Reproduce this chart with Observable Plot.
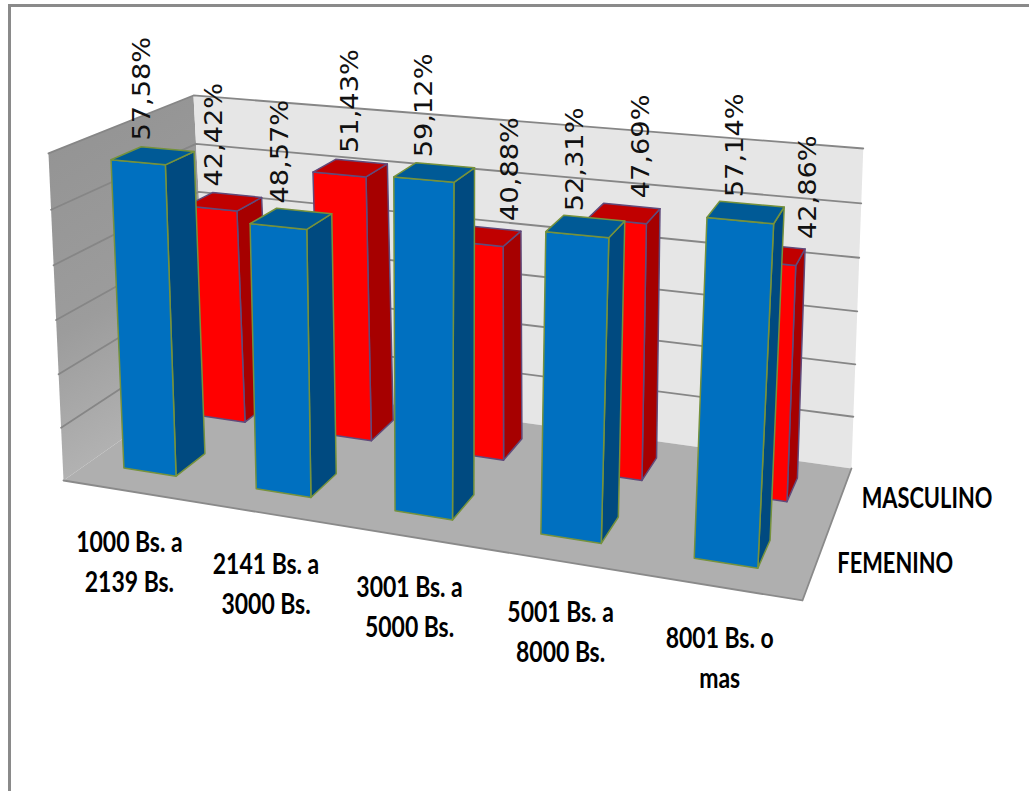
<!DOCTYPE html>
<html lang="es">
<head>
<meta charset="utf-8">
<script src="https://cdn.jsdelivr.net/npm/d3@7"></script>
<script src="https://cdn.jsdelivr.net/npm/@observablehq/plot@0.6"></script>
<style>
  html, body { margin: 0; padding: 0; width: 1029px; height: 791px; overflow: hidden; background: #fff; }
  #marco { position: absolute; left: 8px; top: 4px; right: 0; bottom: 0; border-top: 3px solid #8a8a8a; border-left: 3px solid #8a8a8a; }
  #grafico { position: absolute; left: 0; top: 0; }
  #grafico svg { background: transparent; }
</style>
</head>
<body>
<div id="marco"></div>
<div id="grafico"></div>
<script>
// Ingreso mensual por sexo (porcentajes)
const categorias = ["1000 Bs. a\n2139 Bs.", "2141 Bs. a\n3000 Bs.", "3001 Bs. a\n5000 Bs.", "5001 Bs. a\n8000 Bs.", "8001 Bs. o\nmas"];
const femenino = [57.58, 48.57, 59.12, 52.31, 57.14];
const masculino = [42.42, 51.43, 40.88, 47.69, 42.86];
const etiquetasFemenino = ["57,58%", "48,57%", "59,12%", "52,31%", "57,14%"];
const etiquetasMasculino = ["42,42%", "51,43%", "40,88%", "47,69%", "42,86%"];
const lineasValor = [10, 20, 30, 40, 50, 60];
const valorMaximo = 60;

// Camara: lleva (u a lo ancho, v en profundidad, valor en altura) al plano del dibujo
function proyectar(u, v, valor) {
  const z = valor / valorMaximo;
  const w = 1 - 0.1193 * u + 0.1584 * v - 0.037 * z;
  const kx = -16.8 + 4.9 * u - 7.7 * v;
  const ky = -332.7 - 6.6 * u + 1.3 * v;
  return {
    x: (643.3 * u + 177.9 * v + kx * z + 63) / w,
    y: (48.4 * u - 42.1 * v + ky * z + 480) / w
  };
}

// Geometria de las barras dentro de cada celda del suelo
const n = categorias.length;
const mediaAncho = 0.04;
const mediaFondo = 0.1;
const centroBarra = i => (i + 0.5) / n - 0.006;
const filas = { femenino: 0.257, masculino: 0.757 };
// Las etiquetas de la fila trasera van corridas a mano para que no se pisen
const corrimientoMasculino = [1, 10, 36, 27, 49];

const caras = [];
function cara(puntos, fill, stroke) {
  const id = caras.length ? caras[caras.length - 1].id + 1 : 0;
  for (const [u, v, valor] of puntos) caras.push({ ...proyectar(u, v, valor), id, fill, stroke });
}

// Paredes y suelo
cara([[0, 0, 0], [0, 1, 0], [0, 1, valorMaximo], [0, 0, valorMaximo]], "url(#paredIzquierda)", "none");
cara([[0, 1, 0], [1, 1, 0], [1, 1, valorMaximo], [0, 1, valorMaximo]], "#e6e6e6", "none");
cara([[0, 0, 0], [1, 0, 0], [1, 1, 0], [0, 1, 0]], "#afafaf", "none");

function barra(i, fila, valor, c) {
  const u0 = centroBarra(i) - mediaAncho, u1 = centroBarra(i) + mediaAncho;
  const v0 = fila - mediaFondo, v1 = fila + mediaFondo;
  cara([[u1, v0, 0], [u1, v1, 0], [u1, v1, valor], [u1, v0, valor]], c.lado, c.borde);
  cara([[u0, v0, 0], [u1, v0, 0], [u1, v0, valor], [u0, v0, valor]], c.frente, c.borde);
  cara([[u0, v0, valor], [u1, v0, valor], [u1, v1, valor], [u0, v1, valor]], c.tapa, c.borde);
}
const rojo = { frente: "#ff0000", lado: "#a60000", tapa: "#c00000", borde: "#604a7b" };
const azul = { frente: "#0070c0", lado: "#004a80", tapa: "#005a96", borde: "#76923c" };
masculino.forEach((valor, i) => barra(i, filas.masculino, valor, rojo));
femenino.forEach((valor, i) => barra(i, filas.femenino, valor, azul));

// Lineas de division sobre las dos paredes
const rejilla = lineasValor.flatMap(t =>
  [[0, 0], [0, 1], [1, 1]].map(([u, v]) => ({ ...proyectar(u, v, t), t }))
);
// Borde delantero del suelo
const bordeSuelo = [proyectar(0, 0, 0), proyectar(1, 0, 0), proyectar(1, 1, 0)];

const rotulosValor = [
  ...masculino.map((valor, i) => {
    const p = proyectar(centroBarra(i), filas.masculino, valor);
    return { x: p.x + corrimientoMasculino[i], y: p.y, texto: etiquetasMasculino[i] };
  }),
  ...femenino.map((valor, i) => ({ ...proyectar(centroBarra(i), filas.femenino, valor), texto: etiquetasFemenino[i] }))
];
const rotulosCategoria = categorias.map((texto, i) => ({ ...proyectar((i + 0.5) / n, 0, 0), texto }));
const rotulosSerie = [
  { ...proyectar(1, 0.75, 0), texto: "MASCULINO" },
  { ...proyectar(1, 0.25, 0), texto: "FEMENINO" }
];

const ns = "http://www.w3.org/2000/svg";
function degradado() {
  const defs = document.createElementNS(ns, "defs");
  const g = document.createElementNS(ns, "linearGradient");
  g.setAttribute("id", "paredIzquierda");
  g.setAttribute("x1", "0"); g.setAttribute("y1", "0");
  g.setAttribute("x2", "0.25"); g.setAttribute("y2", "1");
  [["0", "#929292"], ["0.6", "#9c9c9c"], ["1", "#b4b4b4"]].forEach(([o, c]) => {
    const s = document.createElementNS(ns, "stop");
    s.setAttribute("offset", o); s.setAttribute("stop-color", c);
    g.appendChild(s);
  });
  defs.appendChild(g);
  return defs;
}

const soloParedes = caras.filter(d => d.id < 3);
const soloBarras = caras.filter(d => d.id >= 3);

const grafico = Plot.plot({
  width: 1029,
  height: 791,
  margin: 0,
  x: { domain: [0, 1029], range: [0, 1029], axis: null },
  y: { domain: [0, 791], range: [0, 791], axis: null },
  color: { type: "identity" },
  marks: [
    degradado,
    Plot.line(soloParedes, { x: "x", y: "y", z: "id", fill: "fill", stroke: null, curve: "linear-closed" }),
    Plot.line(rejilla, { x: "x", y: "y", z: "t", stroke: "#868686", strokeWidth: 1.8 }),
    Plot.line(bordeSuelo, { x: "x", y: "y", stroke: "#8a8a8a", strokeWidth: 1.8 }),
    Plot.line(soloBarras, { x: "x", y: "y", z: "id", fill: "fill", stroke: "stroke", strokeWidth: 1.5, curve: "linear-closed" }),
    Plot.text(rotulosValor, {
      x: "x", y: "y", text: "texto", rotate: -90, textAnchor: "start", lineAnchor: "middle",
      dx: -11, dy: -15, fontSize: 25, fontFamily: "DejaVu Sans", fill: "#111", className: "rotulo-valor"
    }),
    Plot.text(rotulosCategoria, {
      x: "x", y: "y", text: "texto", textAnchor: "middle", lineAnchor: "middle", lineHeight: 1.45,
      dy: 68, fontSize: 23, fontWeight: 700, fontFamily: "Lato", fill: "#000", className: "rotulo-categoria"
    }),
    Plot.text(rotulosSerie, {
      x: "x", y: "y", text: "texto", textAnchor: "start", lineAnchor: "middle",
      dx: 21, dy: 1, fontSize: 23, fontWeight: 700, fontFamily: "Lato", fill: "#000", className: "rotulo-serie"
    })
  ]
});

// Proporcion de los textos: se estiran sin dejar de ser texto real
function estirar(clase, sx, sy) {
  grafico.querySelectorAll(`g.${clase} text`).forEach(t => {
    t.setAttribute("transform", `${t.getAttribute("transform") || ""} scale(${sx},${sy})`);
  });
}
estirar("rotulo-valor", 1.09, 1);
estirar("rotulo-categoria", 1, 1.2);
estirar("rotulo-serie", 0.95, 1.25);

document.getElementById("grafico").appendChild(grafico);
</script>
</body>
</html>
